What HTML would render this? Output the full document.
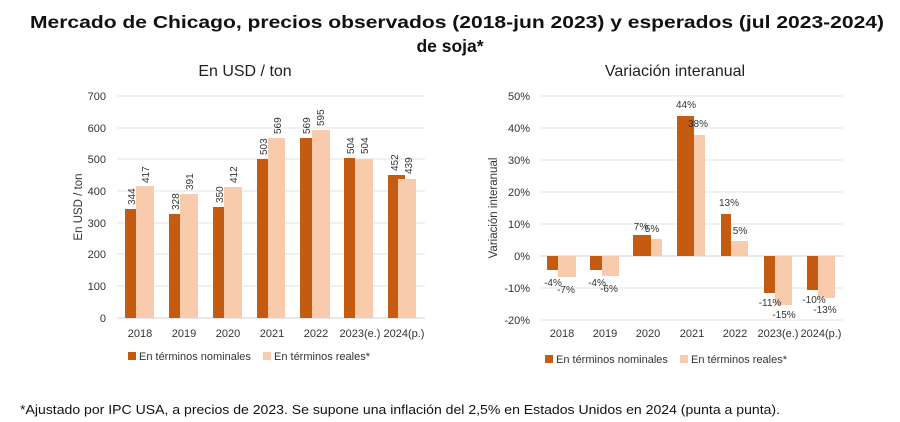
<!DOCTYPE html>
<html><head><meta charset="utf-8"><style>
body{margin:0;background:#fff;}
svg{display:block;font-family:"Liberation Sans",sans-serif;}
</style></head><body>
<svg width="900" height="422" viewBox="0 0 900 422" xmlns="http://www.w3.org/2000/svg">
<rect width="900" height="422" fill="#fff"/>
<text x="30" y="28" textLength="854" lengthAdjust="spacingAndGlyphs" font-size="17.5" font-weight="bold" fill="#111">Mercado de Chicago, precios observados (2018-jun 2023) y esperados (jul 2023-2024)</text>
<text x="450" y="52" text-anchor="middle" font-size="17.5" font-weight="bold" fill="#111">de soja*</text>
<text x="245" y="76" text-anchor="middle" font-size="16" fill="#222">En USD / ton</text>
<text x="675" y="76" text-anchor="middle" font-size="16" fill="#222">Variación interanual</text>

<!-- Left chart -->
<g stroke="#e3e3e3" stroke-width="1">
<line x1="117" x2="425" y1="96" y2="96"/><line x1="117" x2="425" y1="128" y2="128"/>
<line x1="117" x2="425" y1="159" y2="159"/><line x1="117" x2="425" y1="191" y2="191"/>
<line x1="117" x2="425" y1="223" y2="223"/><line x1="117" x2="425" y1="254" y2="254"/>
<line x1="117" x2="425" y1="286" y2="286"/>
</g>
<line x1="117" x2="425" y1="318" y2="318" stroke="#d0d0d0"/>
<g font-size="11" fill="#333" text-anchor="end">
<text x="106" y="100">700</text><text x="106" y="132">600</text><text x="106" y="163">500</text>
<text x="106" y="195">400</text><text x="106" y="227">300</text><text x="106" y="258">200</text>
<text x="106" y="290">100</text><text x="106" y="322">0</text>
</g>
<text transform="translate(82,207) rotate(-90)" text-anchor="middle" font-size="11.5" fill="#333">En USD / ton</text>
<g font-size="11" fill="#333" text-anchor="middle">
<text x="140" y="337">2018</text><text x="184" y="337">2019</text><text x="228" y="337">2020</text>
<text x="272" y="337">2021</text><text x="316" y="337">2022</text><text x="360" y="337">2023(e.)</text><text x="404" y="337">2024(p.)</text>
</g>
<rect x="128" y="352" width="8" height="8" fill="#c55a11"/>
<text x="139" y="360" font-size="11" fill="#333">En términos nominales</text>
<rect x="263" y="352" width="8" height="8" fill="#f8cbad"/>
<text x="274" y="360" font-size="11" fill="#333">En términos reales*</text>

<!-- Right chart -->
<g stroke="#e3e3e3" stroke-width="1">
<line x1="540" x2="843" y1="96" y2="96"/><line x1="540" x2="843" y1="128" y2="128"/>
<line x1="540" x2="843" y1="160" y2="160"/><line x1="540" x2="843" y1="192" y2="192"/>
<line x1="540" x2="843" y1="224" y2="224"/><line x1="540" x2="843" y1="288" y2="288"/>
<line x1="540" x2="843" y1="320" y2="320"/>
</g>
<line x1="540" x2="843" y1="256" y2="256" stroke="#d0d0d0"/>
<g font-size="11" fill="#333" text-anchor="end">
<text x="530" y="100">50%</text><text x="530" y="132">40%</text><text x="530" y="164">30%</text>
<text x="530" y="196">20%</text><text x="530" y="228">10%</text><text x="530" y="260">0%</text>
<text x="530" y="292">-10%</text><text x="530" y="324">-20%</text>
</g>
<text transform="translate(497,208) rotate(-90)" text-anchor="middle" font-size="11.5" fill="#333">Variación interanual</text>
<g font-size="11" fill="#333" text-anchor="middle">
<text x="562" y="337">2018</text><text x="605" y="337">2019</text><text x="648" y="337">2020</text>
<text x="692" y="337">2021</text><text x="735" y="337">2022</text><text x="778" y="337">2023(e.)</text><text x="821" y="337">2024(p.)</text>
</g>
<rect x="545" y="355" width="8" height="8" fill="#c55a11"/>
<text x="556" y="363" font-size="11" fill="#333">En términos nominales</text>
<rect x="680" y="355" width="8" height="8" fill="#f8cbad"/>
<text x="691" y="363" font-size="11" fill="#333">En términos reales*</text>

<text x="20" y="414" textLength="760" lengthAdjust="spacingAndGlyphs" font-size="13" fill="#111">*Ajustado por IPC USA, a precios de 2023. Se supone una inflación del 2,5% en Estados Unidos en 2024 (punta a punta).</text>

<!-- left bars -->
<g>
<rect x="125" y="209" width="11" height="109" fill="#c55a11"/><rect x="136" y="186" width="18" height="132" fill="#f8cbad"/>
<rect x="169" y="214" width="11" height="104" fill="#c55a11"/><rect x="180" y="194" width="18" height="124" fill="#f8cbad"/>
<rect x="213" y="207" width="11" height="111" fill="#c55a11"/><rect x="224" y="187" width="18" height="131" fill="#f8cbad"/>
<rect x="257" y="159" width="11" height="159" fill="#c55a11"/><rect x="268" y="138" width="17" height="180" fill="#f8cbad"/>
<rect x="300" y="138" width="12" height="180" fill="#c55a11"/><rect x="312" y="130" width="18" height="188" fill="#f8cbad"/>
<rect x="344" y="158" width="11" height="160" fill="#c55a11"/><rect x="355" y="159" width="18" height="159" fill="#f8cbad"/>
<rect x="388" y="175" width="17" height="143" fill="#c55a11"/><rect x="398" y="179" width="18" height="139" fill="#f8cbad"/>
</g>
<g font-size="10" fill="#333">
<text transform="translate(135,205) rotate(-90)">344</text><text transform="translate(149,183) rotate(-90)">417</text>
<text transform="translate(179,210) rotate(-90)">328</text><text transform="translate(193,190) rotate(-90)">391</text>
<text transform="translate(223,203) rotate(-90)">350</text><text transform="translate(237,183) rotate(-90)">412</text>
<text transform="translate(267,155) rotate(-90)">503</text><text transform="translate(281,134) rotate(-90)">569</text>
<text transform="translate(310,134) rotate(-90)">569</text><text transform="translate(324,126) rotate(-90)">595</text>
<text transform="translate(354,154) rotate(-90)">504</text><text transform="translate(368,154) rotate(-90)">504</text>
<text transform="translate(398,171) rotate(-90)">452</text><text transform="translate(412,174) rotate(-90)">439</text>
</g>

<!-- right bars -->
<g>
<rect x="547" y="256" width="11" height="14" fill="#c55a11"/><rect x="558" y="256" width="18" height="21" fill="#f8cbad"/>
<rect x="590" y="256" width="12" height="14" fill="#c55a11"/><rect x="602" y="256" width="17" height="20" fill="#f8cbad"/>
<rect x="633" y="235" width="18" height="21" fill="#c55a11"/><rect x="651" y="239" width="11" height="17" fill="#f8cbad"/>
<rect x="677" y="116" width="17" height="140" fill="#c55a11"/><rect x="694" y="135" width="11" height="121" fill="#f8cbad"/>
<rect x="721" y="214" width="10" height="42" fill="#c55a11"/><rect x="731" y="241" width="17" height="15" fill="#f8cbad"/>
<rect x="764" y="256" width="11" height="37" fill="#c55a11"/><rect x="775" y="256" width="17" height="49" fill="#f8cbad"/>
<rect x="807" y="256" width="11" height="34" fill="#c55a11"/><rect x="818" y="256" width="17" height="42" fill="#f8cbad"/>
</g>
<g font-size="10" fill="#333" text-anchor="middle">
<text x="553" y="286">-4%</text><text x="566" y="293">-7%</text>
<text x="597" y="286">-4%</text><text x="609" y="292">-6%</text>
<text x="641" y="230">7%</text><text x="652" y="232">5%</text>
<text x="686" y="108">44%</text><text x="698" y="127">38%</text>
<text x="729" y="206">13%</text><text x="740" y="234">5%</text>
<text x="770" y="306">-11%</text><text x="784" y="318">-15%</text>
<text x="814" y="303">-10%</text><text x="825" y="313">-13%</text>
</g>
</svg>
</body></html>
